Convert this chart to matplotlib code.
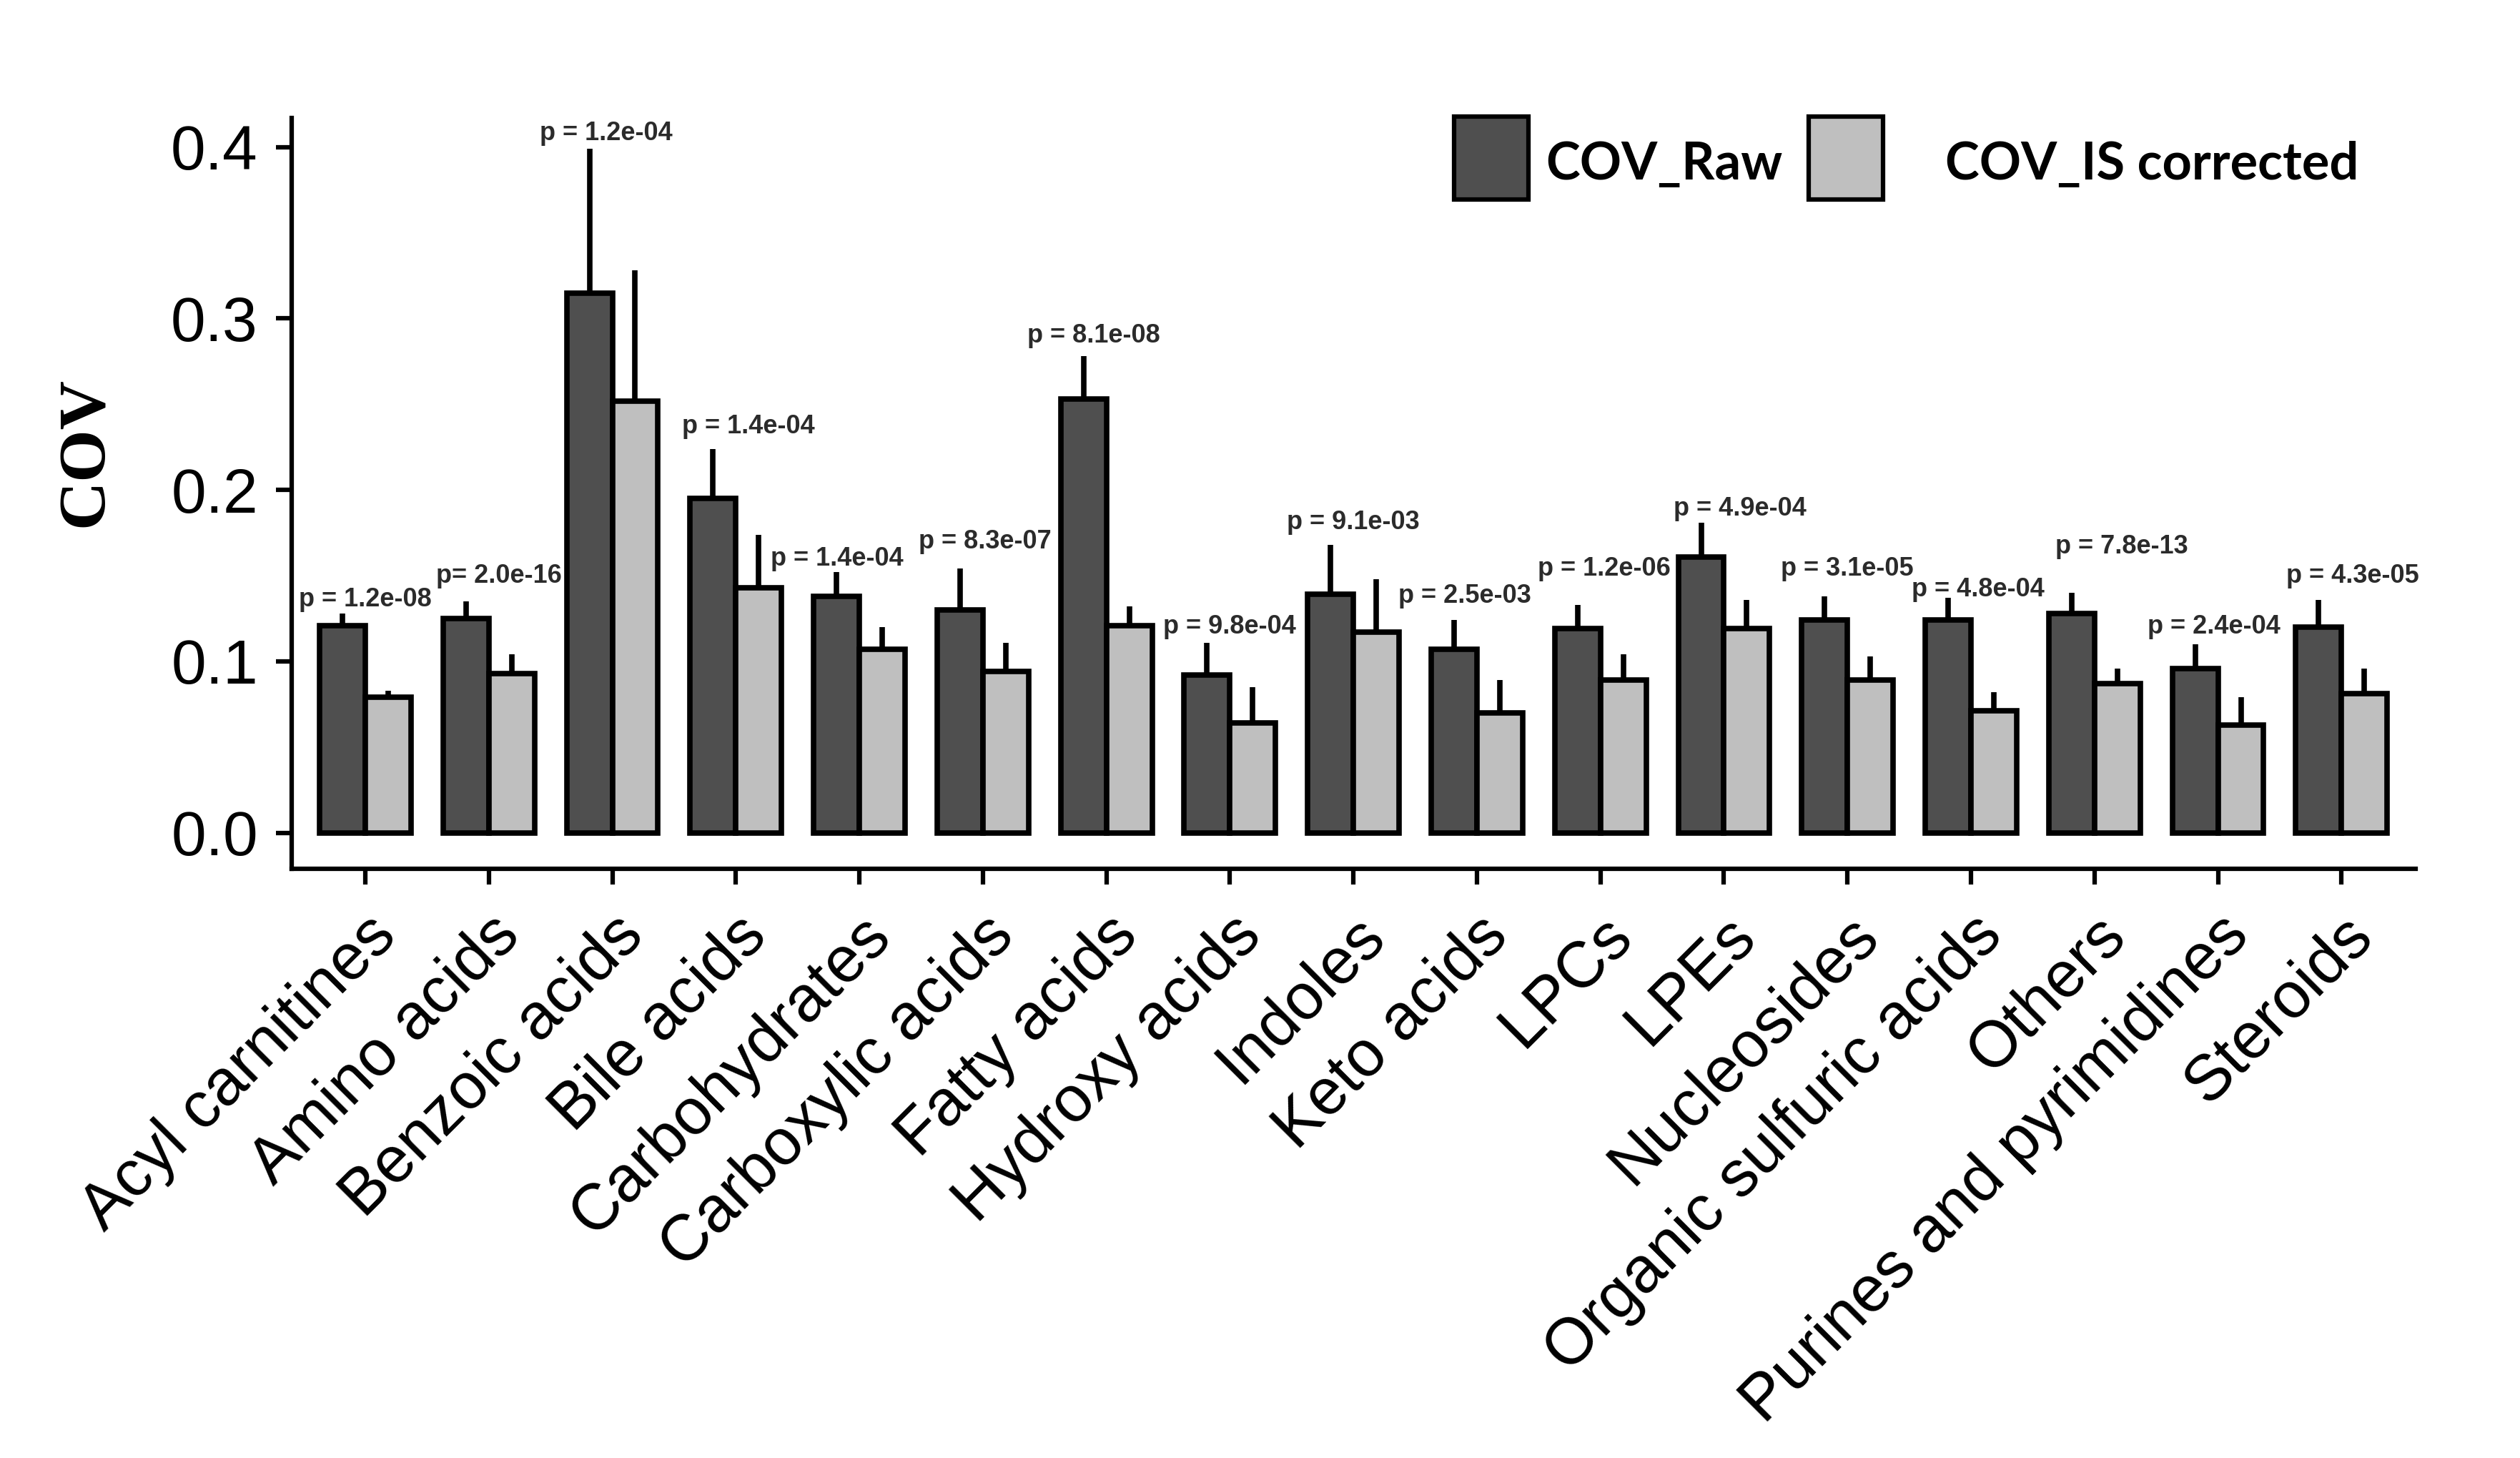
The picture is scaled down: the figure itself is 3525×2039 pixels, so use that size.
import numpy as np
import matplotlib
matplotlib.use("Agg")
import matplotlib.pyplot as plt
from matplotlib.patches import Rectangle
from matplotlib.transforms import ScaledTranslation

categories = ["Acyl carnitines", "Amino acids", "Benzoic acids", "Bile acids",
              "Carbohydrates", "Carboxylic acids", "Fatty acids", "Hydroxy acids",
              "Indoles", "Keto acids", "LPCs", "LPEs", "Nucleosides",
              "Organic sulfuric acids", "Others", "Purines and pyrimidines", "Steroids"]
cov_raw = [0.121, 0.125, 0.315, 0.195, 0.138, 0.130, 0.253, 0.092, 0.139,
           0.107, 0.119, 0.161, 0.124, 0.124, 0.128, 0.096, 0.120]
cov_raw_sd = [0.007, 0.010, 0.084, 0.029, 0.014, 0.024, 0.025, 0.019, 0.029,
              0.017, 0.014, 0.020, 0.014, 0.013, 0.012, 0.014, 0.016]
cov_is = [0.079, 0.093, 0.252, 0.143, 0.107, 0.094, 0.121, 0.064, 0.117,
          0.070, 0.089, 0.119, 0.089, 0.071, 0.087, 0.063, 0.081]
cov_is_sd = [0.004, 0.011, 0.076, 0.031, 0.013, 0.017, 0.011, 0.021, 0.031,
             0.019, 0.015, 0.017, 0.014, 0.011, 0.009, 0.016, 0.015]
p_labels = ["p = 1.2e-08", "p= 2.0e-16", "p = 1.2e-04", "p = 1.4e-04", "p = 1.4e-04",
            "p = 8.3e-07", "p = 8.1e-08", "p = 9.8e-04", "p = 9.1e-03", "p = 2.5e-03",
            "p = 1.2e-06", "p = 4.9e-04", "p = 3.1e-05", "p = 4.8e-04", "p = 7.8e-13",
            "p = 2.4e-04", "p = 4.3e-05"]
# where the p labels sit (centre, data units)
p_label_y = [0.136, 0.150, 0.408, 0.237, 0.160, 0.170, 0.290, 0.120, 0.181,
             0.138, 0.154, 0.189, 0.154, 0.142, 0.167, 0.120, 0.150]
p_label_dx = [0, 0.08, -0.05, 0.10, -0.18, 0.02, -0.10, 0, 0, -0.10, 0.03,
              0.13, 0, 0.06, 0.22, -0.03, 0.09]

DARK = "#4f4f4f"
LIGHT = "#bfbfbf"
W, H = 3525, 2039

fig = plt.figure(figsize=(W / 100, H / 100), dpi=100)
ax = fig.add_axes([408 / W, 1 - 1215 / H, (3379 - 408) / W, (1215 - 165) / H])

x = np.arange(len(categories))
bw = 0.37
ax.bar(x - bw / 2, cov_raw, bw, color=DARK, edgecolor="black", linewidth=5.5, zorder=3)
ax.bar(x + bw / 2, cov_is, bw, color=LIGHT, edgecolor="black", linewidth=5.5, zorder=3)
ax.errorbar(x - bw / 2, cov_raw, yerr=[np.zeros(len(x)), cov_raw_sd], fmt="none",
            ecolor="black", elinewidth=5.5, capsize=0, zorder=2)
ax.errorbar(x + bw / 2, cov_is, yerr=[np.zeros(len(x)), cov_is_sd], fmt="none",
            ecolor="black", elinewidth=5.5, capsize=0, zorder=2)

for i, lab in enumerate(p_labels):
    ax.text(i + p_label_dx[i], p_label_y[i], lab, ha="center", va="center",
            fontsize=26, fontweight="bold", family="Liberation Sans", color="#2b2b2b")

ax.set_xlim(-0.596, 16.6)
ax.set_ylim(-0.021, 0.417)
ax.set_yticks([0.0, 0.1, 0.2, 0.3, 0.4])
ax.set_yticklabels(["0.0", "0.1", "0.2", "0.3", "0.4"], family="Liberation Sans", fontsize=63)
ax.set_xticks(x)
ax.set_xticklabels(categories, rotation=45, ha="right", va="top", rotation_mode="anchor",
                   family="Liberation Sans", fontsize=65)
shift = ScaledTranslation(20 / 100, 0, fig.dpi_scale_trans)
for t in ax.get_xticklabels():
    t.set_transform(t.get_transform() + shift)

for s in ["top", "right"]:
    ax.spines[s].set_visible(False)
for s in ["left", "bottom"]:
    ax.spines[s].set_linewidth(4.5)
ax.tick_params(axis="both", width=4.5, length=16, color="black")
ax.tick_params(axis="y", pad=18)
ax.tick_params(axis="x", pad=20)

ax.set_ylabel("COV", family="Liberation Serif", fontweight="bold", fontsize=68)
ax.yaxis.set_label_coords((163 - 408) / (3379 - 408), 0.555)

# legend drawn by hand, the gaps differ between the two entries
def legend_box(x0, color):
    fig.add_artist(Rectangle((x0 / W, 1 - 279 / H), 104 / W, 116 / H, transform=fig.transFigure,
                             facecolor=color, edgecolor="black", linewidth=4.5))

legend_box(2034, DARK)
legend_box(2530, LIGHT)
fig.text(2162 / W, 1 - 230 / H, "COV_Raw", family="Lato", fontweight="bold",
         fontsize=52, va="center", ha="left")
fig.text(2721 / W, 1 - 230 / H, "COV_IS corrected", family="Lato", fontweight="bold",
         fontsize=52, va="center", ha="left")

fig.savefig("out.png", dpi=100)
